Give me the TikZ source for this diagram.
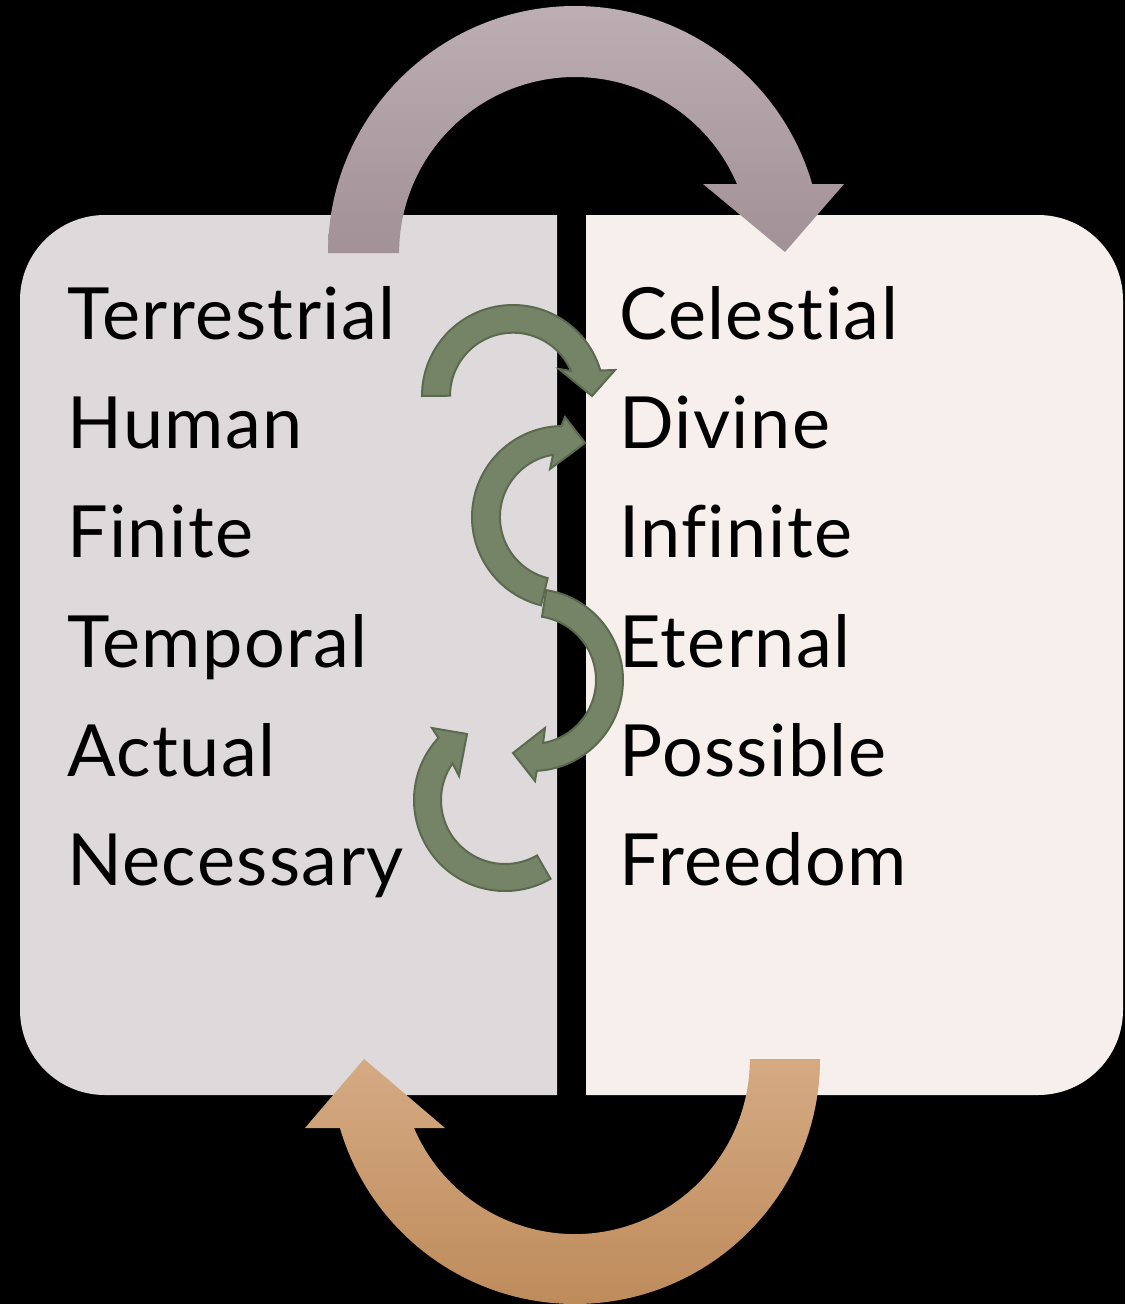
\documentclass[tikz,border=0pt]{standalone}
\usepackage{fontspec}
\setmainfont{Lato}[Ligatures=NoCommon,LetterSpace=2]
\definecolor{leftpanel}{HTML}{DEDADB}
\definecolor{rightpanel}{HTML}{F6EFEC}
\definecolor{mauvetop}{HTML}{BCAEB3}
\definecolor{mauvebot}{HTML}{A29196}
\definecolor{tantop}{HTML}{D5AA83}
\definecolor{tanbot}{HTML}{BE8B5B}
\definecolor{arrowgreen}{HTML}{758467}
\definecolor{arrowedge}{HTML}{5B6A4F}
\begin{document}
\begin{tikzpicture}[
  x=1pt, y=-1pt,
  word/.style={anchor=base west,inner sep=0pt,font=\fontsize{72}{80}\selectfont},
  greenarrow/.style={fill=arrowgreen,draw=arrowedge,line width=2pt,line join=miter}
]
  \useasboundingbox (0,0) rectangle (1125,1304);
  \fill[black] (0,0) rectangle (1125,1304);

  % the two panels
  \fill[leftpanel] (557,215) -- (105,215) arc[start angle=270,end angle=180,radius=85]
    -- (20,1010) arc[start angle=180,end angle=90,radius=85] -- (557,1095) -- cycle;
  \fill[rightpanel] (586,215) -- (1038,215) arc[start angle=270,end angle=360,radius=85]
    -- (1123,1010) arc[start angle=0,end angle=90,radius=85] -- (586,1095) -- cycle;

  % words
  \node[word] (terrestrial) at (67,339) {Terrestrial};
  \node[word] (human)       at (67,448) {Human};
  \node[word] (finite)      at (67,557) {Finite};
  \node[word] (temporal)    at (67,667) {Temporal};
  \node[word] (actual)      at (67,776) {Actual};
  \node[word] (necessary)   at (67,885) {Necessary};
  \node[word] (celestial)   at (619,339) {Celestial};
  \node[word] (divine)      at (619,448) {Divine};
  \node[word] (infinite)    at (619,557) {Infinite};
  \node[word] (eternal)     at (619,667) {Eternal};
  \node[word] (possible)    at (619,776) {Possible};
  \node[word] (freedom)     at (619,885) {Freedom};

  % big arrows
  \shade[top color=mauvetop,bottom color=mauvebot]
    (328,253) arc[start angle=180,end angle=343.8,radius=247]
    -- (844,184) -- (785,252) -- (703,184) -- (737,184)
    arc[start angle=336.9,end angle=180,radius=176] -- cycle;
  \shade[top color=tantop,bottom color=tanbot]
    (820,1059) arc[start angle=0,end angle=163.6,radius=245]
    -- (305,1128) -- (364,1059) -- (445,1128) -- (414,1128)
    arc[start angle=156.8,end angle=0,radius=175] -- cycle;

  % small green arrows
  \draw[greenarrow] (422,396) arc[start angle=180,end angle=343.7,radius=91]
    -- (615,370) -- (592,396) -- (559,369) -- (571,371)
    arc[start angle=336.9,end angle=180,radius=63] -- cycle;
  \draw[greenarrow] (541,605.3) arc[start angle=104,end angle=269,radius=91]
    -- (565,417) -- (585,443) -- (550,469) -- (553.1,454.8)
    arc[start angle=261,end angle=104,radius=63] -- cycle;
  \draw[greenarrow] (546.2,590.1) arc[start angle=279,end angle=447,radius=91]
    -- (535,781) -- (513,753) -- (545,728) -- (543.1,743)
    arc[start angle=440,end angle=279,radius=64] -- cycle;
  \draw[greenarrow] (550.5,878.8) arc[start angle=60,end angle=223,radius=91]
    -- (432,728) -- (467,734) -- (459,776) -- (452.6,763.3)
    arc[start angle=215,end angle=60,radius=64] -- cycle;
\end{tikzpicture}
\end{document}
